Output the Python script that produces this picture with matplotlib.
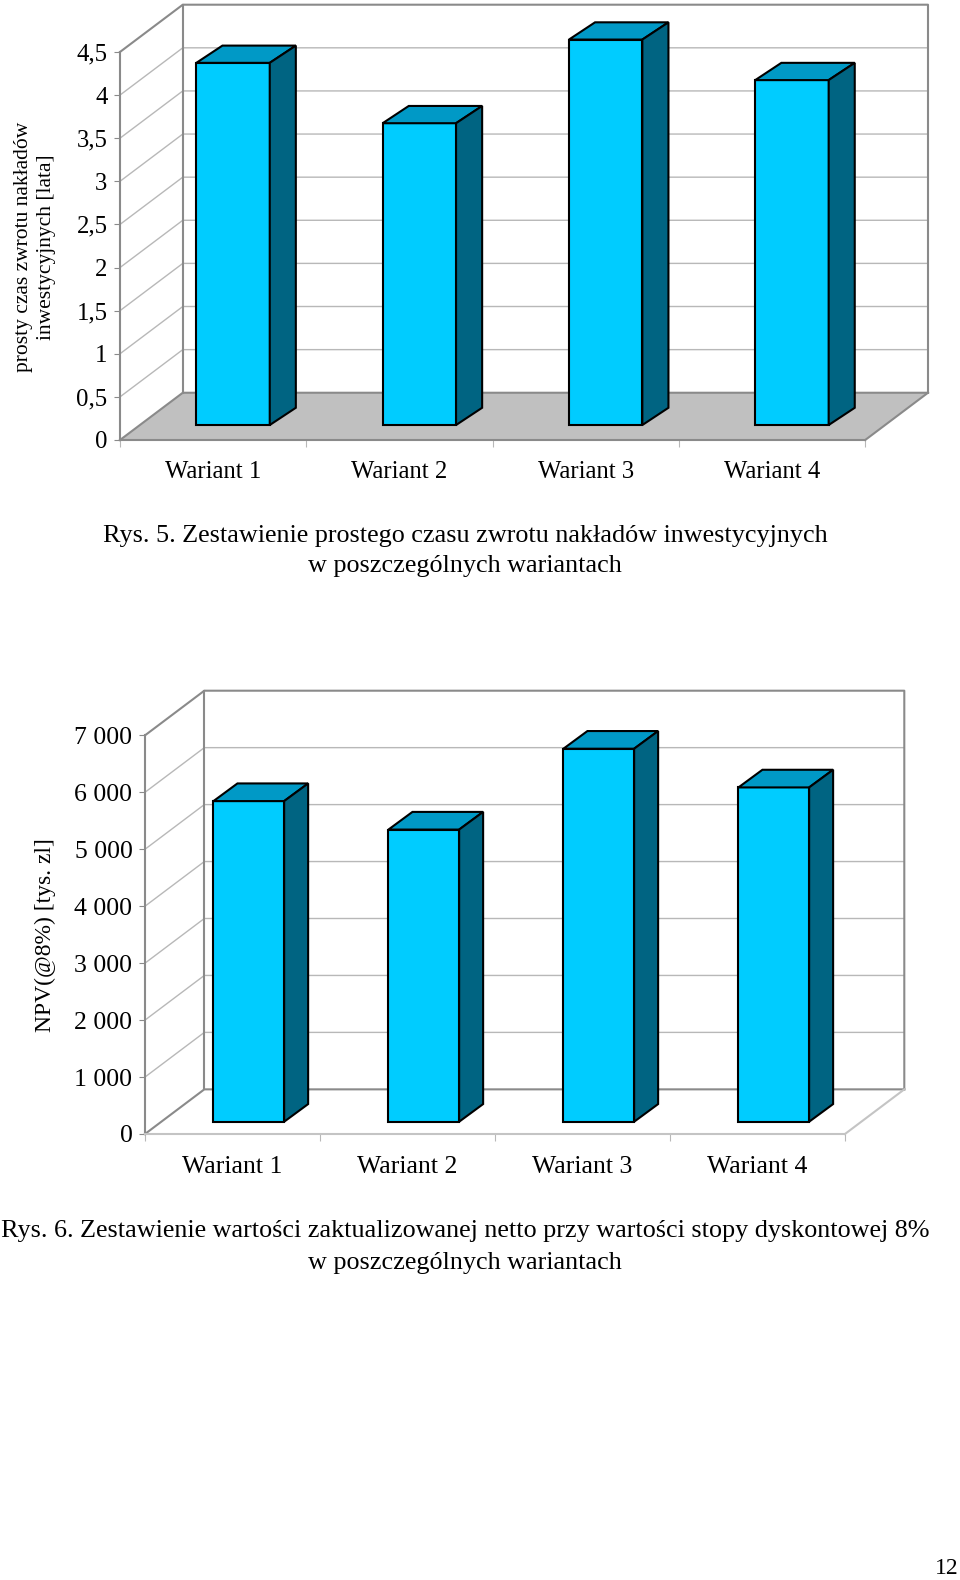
import matplotlib.pyplot as plt
from matplotlib.patches import Polygon

plt.rcParams['font.family'] = ['Liberation Serif', 'DejaVu Serif']

# dane
categories = ['Wariant 1', 'Wariant 2', 'Wariant 3', 'Wariant 4']

# Rys. 5 - prosty czas zwrotu [lata]
payback = [4.2, 3.5, 4.47, 4.0]
payback_ticks = [0, 0.5, 1, 1.5, 2, 2.5, 3, 3.5, 4, 4.5]
payback_labels = ['0', '0,5', '1', '1,5', '2', '2,5', '3', '3,5', '4', '4,5']

# Rys. 6 - NPV(@8%) [tys. zl]
npv = [5630, 5130, 6550, 5870]
npv_ticks = [0, 1000, 2000, 3000, 4000, 5000, 6000, 7000]
npv_labels = ['0', '1 000', '2 000', '3 000', '4 000', '5 000', '6 000', '7 000']

FRONT = '#00ccff'
TOP = '#0099c6'
SIDE = '#006482'
DARK = '#8a8a8a'
GRID = '#b8b8b8'


def chart3d(ax, values, ticks, labels, dx, dy, f, w, bdx, bdy, floor, fs,
            floor_edge, xpad):
    n = len(values)
    ymax = ticks[-1]
    ax.set_xlim(0, n + dx)
    ax.set_ylim(0, ymax + dy)
    ax.patch.set_visible(False)

    # podloga
    if floor is not None:
        ax.add_patch(Polygon([(0, 0), (n, 0), (n + dx, dy), (dx, dy)],
                             closed=True, fc=floor, ec='none', zorder=1,
                             clip_on=False))
    # siatka: sciana boczna + tylna
    for t in ticks[1:-1]:
        ax.plot([0, dx, n + dx], [t, t + dy, t + dy], color=GRID, lw=1,
                zorder=1.5, clip_on=False)
    # ramki scian
    ax.plot([0, dx, n + dx, n + dx], [ymax, ymax + dy, ymax + dy, dy],
            color=DARK, lw=1.5, zorder=2, clip_on=False)
    ax.plot([0, dx, n + dx], [0, dy, dy], color=DARK, lw=1.5, zorder=2,
            clip_on=False)
    ax.plot([dx, dx], [dy, ymax + dy], color=DARK, lw=1.5, zorder=2,
            clip_on=False)
    ax.plot([n, n + dx], [0, dy], color=floor_edge, lw=1.5, zorder=2,
            clip_on=False)

    # slupki
    xs = [i + 0.5 + f * dx for i in range(n)]
    bars = ax.bar(xs, values, width=w, bottom=f * dy, color=FRONT,
                  edgecolor='black', lw=1.5, zorder=3)
    for b in bars:
        x0, y0 = b.get_x(), b.get_y()
        x1, y1 = x0 + b.get_width(), y0 + b.get_height()
        ax.add_patch(Polygon([(x0, y1), (x1, y1), (x1 + bdx, y1 + bdy),
                              (x0 + bdx, y1 + bdy)], closed=True, fc=TOP,
                             ec='black', lw=1.5, zorder=3, clip_on=False))
        ax.add_patch(Polygon([(x1, y0), (x1 + bdx, y0 + bdy),
                              (x1 + bdx, y1 + bdy), (x1, y1)], closed=True,
                             fc=SIDE, ec='black', lw=1.5, zorder=3,
                             clip_on=False))

    # osie
    for s in ['top', 'right']:
        ax.spines[s].set_visible(False)
    ax.spines['left'].set_bounds(0, ymax)
    ax.spines['left'].set_color(DARK)
    ax.spines['left'].set_linewidth(1.5)
    ax.spines['bottom'].set_bounds(0, n)
    ax.spines['bottom'].set_color(floor_edge)
    ax.spines['bottom'].set_linewidth(1.5)
    ax.set_yticks(ticks, labels)
    ax.set_xticks(range(n + 1), [''] * (n + 1))
    ax.set_xticks([i + 0.5 for i in range(n)], categories, minor=True)
    ax.tick_params(axis='y', length=4, color=DARK, labelsize=fs, pad=5)
    ax.tick_params(axis='x', which='major', length=5, color=GRID)
    ax.tick_params(axis='x', which='minor', length=0, labelsize=fs, pad=xpad)


fig = plt.figure(figsize=(9.6, 15.8), dpi=100)
W, H = 960, 1580

ax1 = fig.add_axes([120 / W, 1 - 440 / H, 808 / W, 435.3 / H])
chart3d(ax1, payback, payback_ticks, payback_labels, 0.337, 0.548, 0.317,
        0.394, 0.14, 0.2, '#c0c0c0', 17.8, DARK, 15)

ax2 = fig.add_axes([145 / W, 1 - 1134 / H, 759.3 / W, 443.3 / H])
chart3d(ax2, npv, npv_ticks, npv_labels, 0.339, 784, 0.275, 0.404, 0.137,
        310, None, 18.5, '#c4c4c4', 16)

fig.text(35 / W, 1 - 247 / H, 'prosty czas zwrotu nakładów\ninwestycyjnych [lata]',
         rotation=90, ha='center', va='center', multialignment='center',
         fontsize=15.5, linespacing=1.35)
fig.text(45 / W, 1 - 935 / H, 'NPV(@8%) [tys. zl]', rotation=90,
         ha='center', va='center', fontsize=17)

fig.text(465 / W, 1 - 536 / H,
         'Rys. 5. Zestawienie prostego czasu zwrotu nakładów inwestycyjnych',
         ha='center', va='center', fontsize=18.8)
fig.text(465 / W, 1 - 566 / H, 'w poszczególnych wariantach',
         ha='center', va='center', fontsize=18.8)
fig.text(465 / W, 1 - 1231 / H,
         'Rys. 6. Zestawienie wartości zaktualizowanej netto przy wartości stopy dyskontowej 8%',
         ha='center', va='center', fontsize=18.8)
fig.text(465 / W, 1 - 1263 / H, 'w poszczególnych wariantach',
         ha='center', va='center', fontsize=18.8)

fig.text(947 / W, 1 - 1569 / H, '12', ha='center', va='center', fontsize=17)

fig.savefig('out.png', dpi=100)
